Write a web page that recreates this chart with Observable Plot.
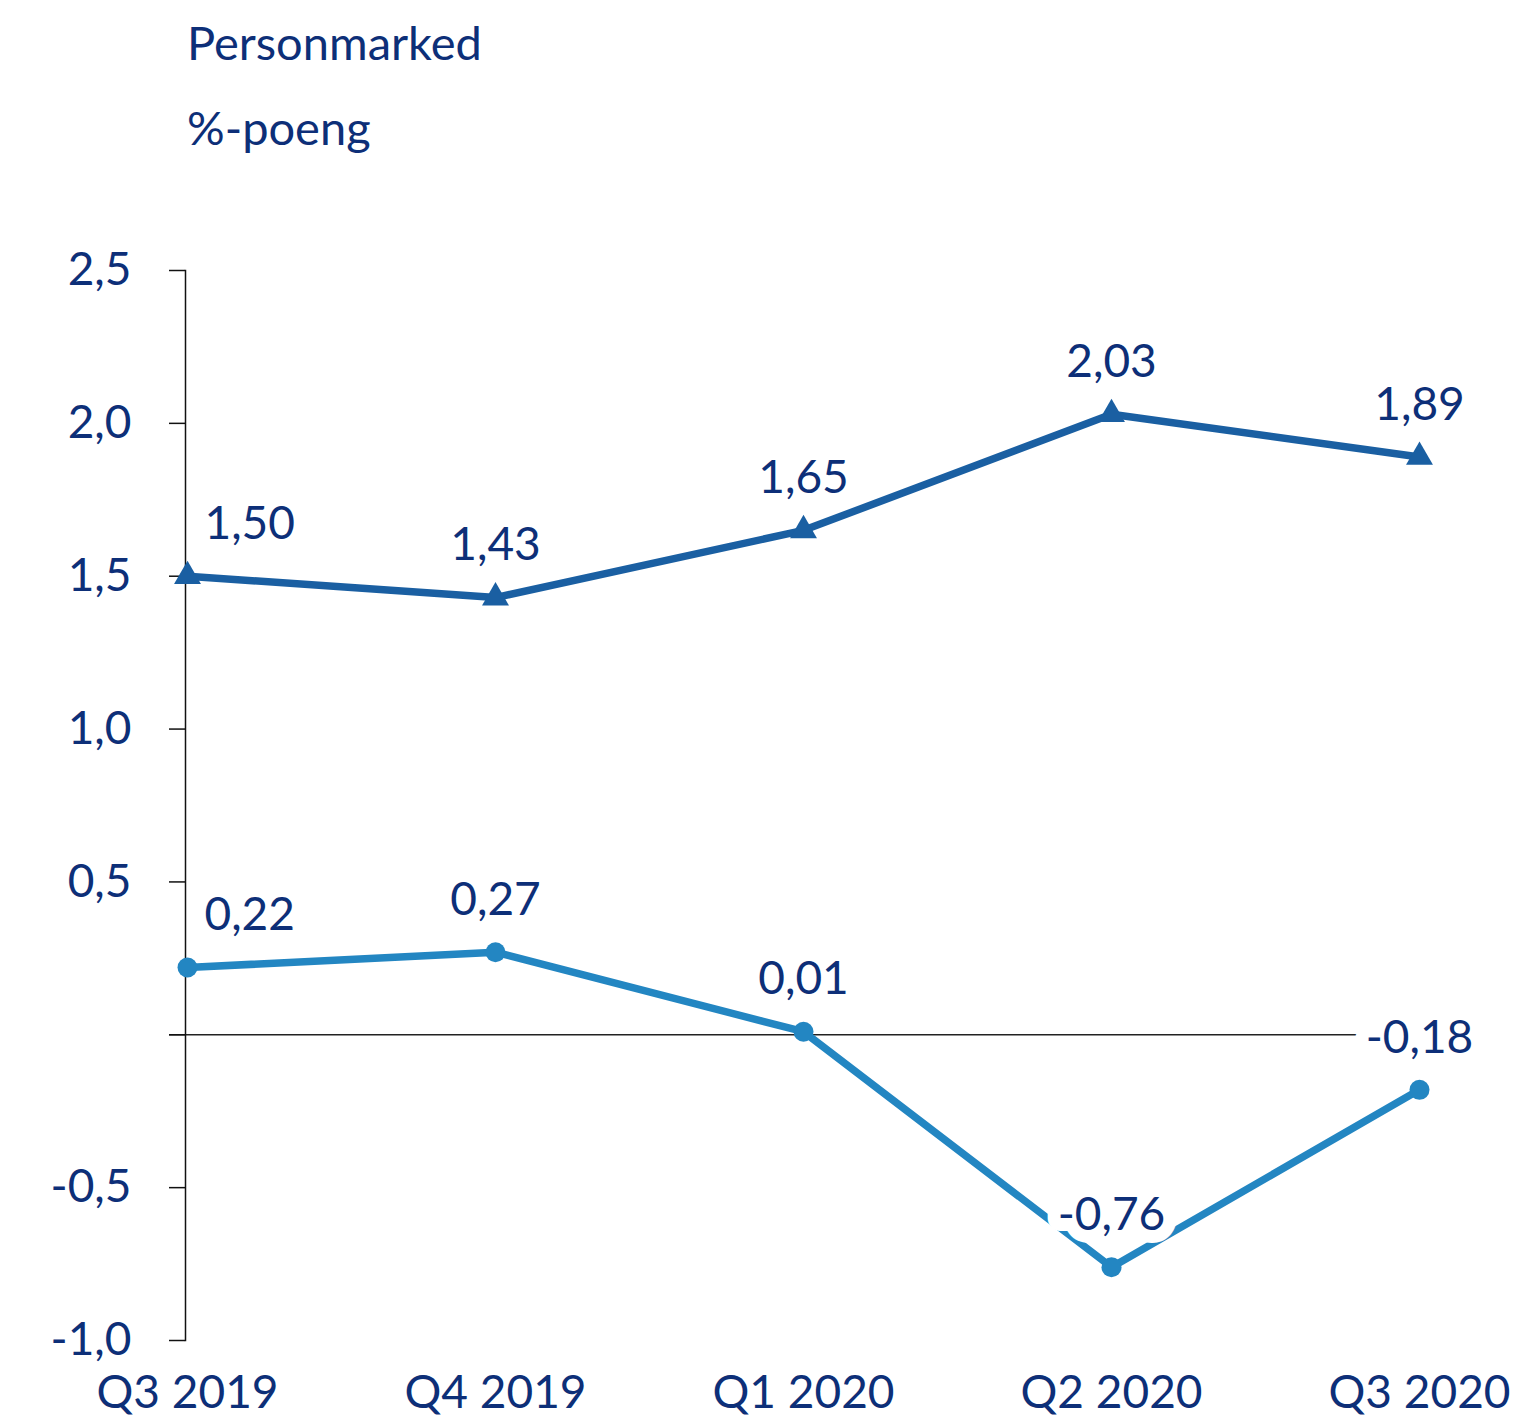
<!DOCTYPE html>
<html>
<head>
<meta charset="utf-8">
<script src="https://cdn.jsdelivr.net/npm/d3@7"></script>
<script src="https://cdn.jsdelivr.net/npm/@observablehq/plot@0.6"></script>
<style>
  html, body { margin: 0; padding: 0; background: #fff; }
  #wrap { position: relative; width: 1521px; height: 1417px; font-family: Lato, "Open Sans", sans-serif; }
  .title { position: absolute; left: 187px; font-size: 47px; line-height: 1; color: #0d2f78; white-space: nowrap; }
  #chart { position: absolute; left: 0; top: 0; }
</style>
</head>
<body>
<div id="wrap">
  <div id="chart"></div>
  <div class="title" style="top:19px">Personmarked</div>
  <div class="title" style="top:104px">%-poeng</div>
</div>
<script>
const quarters = ["Q3 2019", "Q4 2019", "Q1 2020", "Q2 2020", "Q3 2020"];
const upperValues = [1.50, 1.43, 1.65, 2.03, 1.89];
const lowerValues = [0.22, 0.27, 0.01, -0.76, -0.18];
const yTicks = [-1, -0.5, 0, 0.5, 1, 1.5, 2, 2.5];

const navy = "#0d2f78";
const upperColor = "#1a5fa2";
const lowerColor = "#2386c2";

const upper = quarters.map((q, i) => ({q, v: upperValues[i], i}));
const lower = quarters.map((q, i) => ({q, v: lowerValues[i], i}));
const fmt = v => v.toFixed(2).replace(".", ",");

const labelStyle = {
  fill: navy, fontSize: 46, stroke: "white", strokeWidth: 26, strokeLinejoin: "round", paintOrder: "stroke"
};

function labels(data) {
  return [
    Plot.text(data.filter(d => d.i === 0), {x: "q", y: "v", text: d => fmt(d.v), dy: -52, dx: 17, textAnchor: "start", ...labelStyle}),
    Plot.text(data.filter(d => d.i !== 0), {x: "q", y: "v", text: d => fmt(d.v), dy: -52, textAnchor: "middle", ...labelStyle})
  ];
}

const chart = Plot.plot({
  width: 1521,
  height: 1417,
  marginLeft: 185,
  marginRight: 101,
  marginTop: 270,
  marginBottom: 77,
  style: {fontFamily: "Lato, 'Open Sans', sans-serif", fontSize: "46px", background: "white"},
  x: {type: "point", domain: quarters, padding: 0, label: null},
  y: {domain: [-1, 2.5], label: null},
  marks: [
    Plot.ruleY([0], {stroke: "#222", strokeWidth: 1.5, insetLeft: -16, insetRight: -60}),
    Plot.axisY({ticks: yTicks, tickSize: 16, tickPadding: 38, stroke: "#111", strokeWidth: 1.5, fill: navy, fontSize: 46, label: null,
      tickFormat: d => d === 0 ? "" : d.toFixed(1).replace(".", ",")}),
    Plot.frame({anchor: "left", stroke: "#111", strokeWidth: 1.5}),
    Plot.axisX({tickSize: 0, tickPadding: 35, fill: navy, fontSize: 46, label: null}),
    Plot.line(upper, {x: "q", y: "v", stroke: upperColor, strokeWidth: 7.5}),
    Plot.dot(upper, {x: "q", y: "v", symbol: "triangle", r: 10, fill: upperColor}),
    Plot.line(lower, {x: "q", y: "v", stroke: lowerColor, strokeWidth: 7.5}),
    Plot.dot(lower, {x: "q", y: "v", symbol: "circle", r: 10, fill: lowerColor}),
    ...labels(upper),
    ...labels(lower)
  ]
});
document.getElementById("chart").appendChild(chart);
</script>
</body>
</html>
